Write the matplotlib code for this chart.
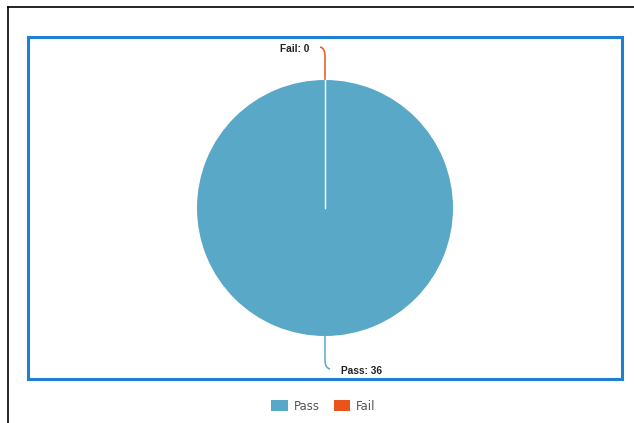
import matplotlib
matplotlib.use("Agg")
import matplotlib.pyplot as plt
import numpy as np
from matplotlib.patches import Rectangle, PathPatch
from matplotlib.path import Path
from matplotlib.lines import Line2D

# data
labels = ["Pass", "Fail"]
values = [36, 0]
colors = ["#5aa8c7", "#e8541c"]

W, H = 634, 423
fig = plt.figure(figsize=(W / 100, H / 100), dpi=100)
ax = fig.add_axes([0, 0, 1, 1])

# outer page frame (left + top edges)
ax.add_line(Line2D([8, 8], [7, H], color="black", lw=1.2))
ax.add_line(Line2D([8, W], [7, 7], color="black", lw=1.2))

# blue chart border
ax.add_patch(Rectangle((28, 37), 594, 342, fill=False, edgecolor="#1f7fd2", lw=2.2))

center = (325, 208)
radius = 128
wedges, _ = ax.pie(values, colors=colors, startangle=90, counterclock=False,
                   center=center, radius=radius, frame=True,
                   wedgeprops=dict(linewidth=0))
ax.set_xlim(0, W)
ax.set_ylim(H, 0)
ax.set_aspect("equal")
ax.axis("off")

# white slice boundary from the center to the start angle
cx, cy = center
ax.add_line(Line2D([cx, cx], [cy, cy - radius], color="white", lw=1.0, zorder=5))


def leader(w, label, val, color):
    mid = np.deg2rad((w.theta1 + w.theta2) / 2)
    # y axis points down, so screen angle is mirrored
    dx, dy = np.cos(mid), -np.sin(mid)
    side = -1 if dy < 0 else 1
    p0 = (cx + dx * radius, cy + dy * radius)
    p1 = (cx + dx * (radius + 24), cy + dy * (radius + 24))
    ctrl = (cx + dx * (radius + 32), cy + dy * (radius + 32))
    p2 = (ctrl[0] + side * 5, ctrl[1] + dy * 1)
    path = Path([p0, p1, ctrl, p2],
                [Path.MOVETO, Path.LINETO, Path.CURVE3, Path.CURVE3])
    ax.add_patch(PathPatch(path, fill=False, edgecolor=color, lw=1.1))
    ha = "left" if side > 0 else "right"
    ax.text(p2[0] + side * 11, p2[1] + 1.5, f"{label}: {val}", ha=ha, va="center",
            fontsize=7.3, fontweight="bold", color="#222222", family="Liberation Sans")


for w, lab, v, c in zip(wedges, labels, values, colors):
    leader(w, lab, v, c)

handles = [Rectangle((0, 0), 1, 1, facecolor=c, edgecolor="none") for c in colors]
fig.legend(handles, labels, loc="center", bbox_to_anchor=(0.51, 0.04), ncol=2,
           frameon=False, fontsize=8.5, labelcolor="#555555", handlelength=1.4,
           handleheight=1.1, columnspacing=1.2, handletextpad=0.5)

fig.savefig("out.png", dpi=100)
